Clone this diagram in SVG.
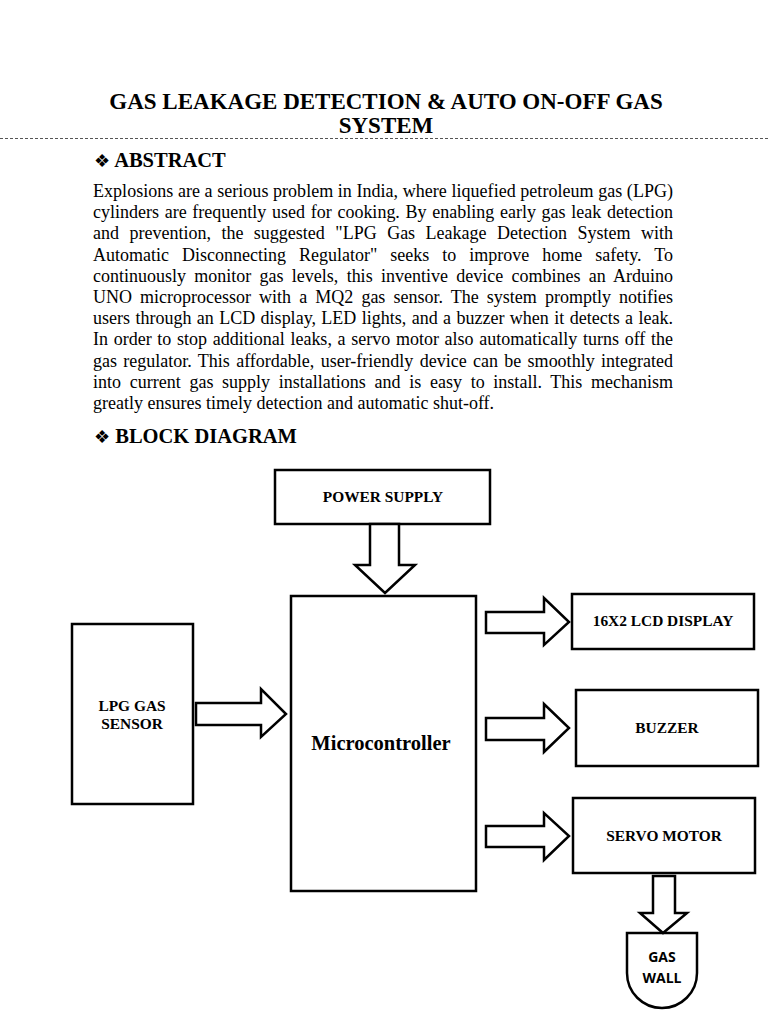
<svg xmlns="http://www.w3.org/2000/svg" width="768" height="1024" viewBox="0 0 768 1024">
<style>
.title{font-family:"Liberation Serif",serif;font-weight:bold;font-size:23px;fill:#000}
.head{font-family:"Liberation Serif",serif;font-weight:bold;font-size:20.5px;fill:#000}
.sym{font-family:"DejaVu Sans",sans-serif;font-size:18px}
.body{font-family:"Liberation Serif",serif;font-size:18px;fill:#000}
.box{fill:#fff;stroke:#000;stroke-width:2.5}
.arrow{fill:#fff;stroke:#000;stroke-width:2.5;stroke-linejoin:miter}
.lbl{font-family:"Liberation Serif",serif;font-weight:bold;font-size:15.4px;fill:#000;text-anchor:middle}
.big{font-family:"Liberation Serif",serif;font-weight:bold;font-size:20.5px;fill:#000;text-anchor:middle}
.sans{font-family:"Open Sans","Noto Sans",sans-serif;font-weight:bold;font-size:14px;fill:#000;text-anchor:middle}
</style>
<rect width="768" height="1024" fill="#fff"/>
<text class="title" x="386" y="109" text-anchor="middle">GAS LEAKAGE DETECTION &amp; AUTO ON-OFF GAS</text>
<text class="title" x="386" y="133" text-anchor="middle">SYSTEM</text>
<line x1="0" y1="138.5" x2="768" y2="138.5" stroke="#555" stroke-width="1" stroke-dasharray="3,2"/>
<text class="head" x="94" y="167"><tspan class="sym">❖</tspan> ABSTRACT</text>
<g class="body">
<text x="93" y="197" textLength="580" lengthAdjust="spacing">Explosions are a serious problem in India, where liquefied petroleum gas (LPG)</text>
<text x="93" y="218.2" word-spacing="1.2" textLength="580" lengthAdjust="spacing">cylinders are frequently used for cooking. By enabling early gas leak detection</text>
<text x="93" y="239.4" word-spacing="6" textLength="580" lengthAdjust="spacing">and prevention, the suggested "LPG Gas Leakage Detection System with</text>
<text x="93" y="260.6" word-spacing="8.5" textLength="580" lengthAdjust="spacing">Automatic Disconnecting Regulator" seeks to improve home safety. To</text>
<text x="93" y="281.8" word-spacing="3.8" textLength="580" lengthAdjust="spacing">continuously monitor gas levels, this inventive device combines an Arduino</text>
<text x="93" y="303" word-spacing="3.6" textLength="580" lengthAdjust="spacing">UNO microprocessor with a MQ2 gas sensor. The system promptly notifies</text>
<text x="93" y="324.2" word-spacing="0.9" textLength="580" lengthAdjust="spacing">users through an LCD display, LED lights, and a buzzer when it detects a leak.</text>
<text x="93" y="345.4" word-spacing="1.2" textLength="580" lengthAdjust="spacing">In order to stop additional leaks, a servo motor also automatically turns off the</text>
<text x="93" y="366.6" word-spacing="1.8" textLength="580" lengthAdjust="spacing">gas regulator. This affordable, user-friendly device can be smoothly integrated</text>
<text x="93" y="387.8" word-spacing="4.2" textLength="580" lengthAdjust="spacing">into current gas supply installations and is easy to install. This mechanism</text>
<text x="93" y="409">greatly ensures timely detection and automatic shut-off.</text>
</g>
<text class="head" x="94" y="443"><tspan class="sym">❖</tspan> BLOCK DIAGRAM</text>

<g id="power-supply">
<rect class="box" x="275" y="470" width="215" height="54"/>
<text class="lbl" x="383" y="502">POWER SUPPLY</text>
</g>
<g id="microcontroller">
<rect class="box" x="291" y="596" width="185" height="295"/>
<text class="big" x="381" y="750">Microcontroller</text>
</g>
<g id="lpg-gas-sensor">
<rect class="box" x="72" y="624" width="121" height="180"/>
<text class="lbl" x="132" y="711">LPG GAS</text>
<text class="lbl" x="132" y="729">SENSOR</text>
</g>
<g id="lcd-display">
<rect class="box" x="572" y="594" width="182" height="55"/>
<text class="lbl" x="663" y="626">16X2 LCD DISPLAY</text>
</g>
<g id="buzzer">
<rect class="box" x="576" y="690" width="182" height="76"/>
<text class="lbl" x="667" y="733">BUZZER</text>
</g>
<g id="servo-motor">
<rect class="box" x="573" y="798" width="182" height="75"/>
<text class="lbl" x="664" y="841">SERVO MOTOR</text>
</g>
<g id="gas-wall">
<path class="box" d="M627,933 H697 V973 A35,35 0 0 1 627,973 Z"/>
<text class="sans" x="662" y="962">GAS</text>
<text class="sans" x="662" y="983">WALL</text>
</g>

<g id="connectors">
<path class="arrow" d="M370,524 H399 V565 H415 L385,593 L355,565 H370 Z"/>
<path class="arrow" d="M196,703 H261 V689 L286,714 L261,737 V725 H196 Z"/>
<path class="arrow" d="M486,612 H544 V598 L569,622 L544,645 V633 H486 Z"/>
<path class="arrow" d="M486,718 H544 V704 L569,728 L544,752 V740 H486 Z"/>
<path class="arrow" d="M486,826 H544 V813 L569,836 L544,860 V847 H486 Z"/>
<path class="arrow" d="M653,876 H675 V913 H687 L663,933 L640,913 H653 Z"/>
</g>
</svg>
